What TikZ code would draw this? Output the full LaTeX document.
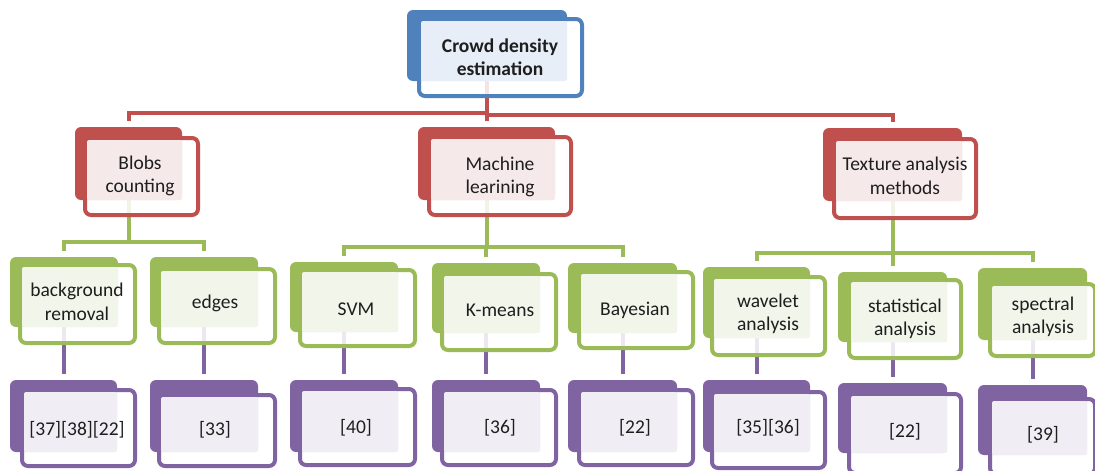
\documentclass[tikz,border=0pt]{standalone}
\usepackage{fontspec}
\setmainfont{Carlito}
\usetikzlibrary{fit,calc}
\definecolor{cblue}{HTML}{4F81BD}
\definecolor{cred}{HTML}{C0504D}
\definecolor{cgreen}{HTML}{9BBB59}
\definecolor{cpurple}{HTML}{8064A2}
\definecolor{tblue}{HTML}{E7EEF8}
\definecolor{tred}{HTML}{F5E9E9}
\definecolor{tgreen}{HTML}{F2F5EA}
\definecolor{tpurple}{HTML}{F0EDF4}
\definecolor{ctext}{HTML}{1E1E1E}
\pgfdeclarelayer{bg}
\pgfsetlayers{bg,main}
\tikzset{
  backbox/.style={inner sep=0pt, outer sep=0pt, fill=#1, draw=none, rounded corners=6pt},
  frontbox/.style={inner sep=-2pt, outer sep=0pt, draw=#1, line width=4pt, fill=white, fill opacity=0.85, rounded corners=6pt},
  txt/.style={text=ctext, align=center, inner sep=0pt, font=\fontsize{19.5}{23.5}\selectfont},
  conn/.style={draw=#1, line width=4pt, shorten >=6pt},
}
% #1 name, #2 colour, #3 tint, #4 back corners, #5 front corners, #6 text position, #7 text
\newcommand\cbx[7]{%
  \node[backbox=#2, fit={#4}] (#1-b) {};
  \node[frontbox=#2, fit={#5}] (#1) {};
  \fill[#3, rounded corners=2pt] ($(#1.north west)+(2,2)$) rectangle (#1-b.south east);
  \node[txt] (#1-t) at #6 {#7};
}
\begin{document}
\begin{tikzpicture}[x=1pt,y=-1pt]
\useasboundingbox (0,0) rectangle (1095,471);
% level 0
\cbx{top}{cblue}{tblue}{(407,10)(567,81)}{(417,17)(584,98)}{(500,57)}{\bfseries Crowd density\\\bfseries estimation}
% level 1
\cbx{blobs}{cred}{tred}{(75,127)(182,200)}{(83,136)(200,217)}{(140,176)}{Blobs\\counting}
\cbx{ml}{cred}{tred}{(418,127)(555,200)}{(427,135)(573,217)}{(500,177)}{Machine\\learining}
\cbx{tex}{cred}{tred}{(823,128)(962,201)}{(832,137)(978,220)}{(905,176)}{Texture analysis\\methods}
% level 2
\cbx{bgr}{cgreen}{tgreen}{(10,257)(118,327)}{(18,263)(137,345)}{(77,302)}{background\\removal}
\cbx{edg}{cgreen}{tgreen}{(150,257)(258,327)}{(157,267)(277,345)}{(215,303)}{edges}
\cbx{svm}{cgreen}{tgreen}{(290,262)(398,332)}{(298,268)(417,348)}{(356,309)}{SVM}
\cbx{kme}{cgreen}{tgreen}{(432,263)(540,333)}{(440,272)(558,352)}{(500,310)}{K-means}
\cbx{bay}{cgreen}{tgreen}{(568,263)(677,333)}{(577,270)(695,350)}{(635,310)}{Bayesian}
\cbx{wav}{cgreen}{tgreen}{(703,267)(810,338)}{(710,275)(827,357)}{(768,314)}{wavelet\\analysis}
\cbx{sta}{cgreen}{tgreen}{(838,272)(947,342)}{(847,278)(963,360)}{(905,319)}{statistical\\analysis}
\cbx{spe}{cgreen}{tgreen}{(978,268)(1087,340)}{(988,282)(1097,358)}{(1043,317)}{spectral\\analysis}
% level 3
\cbx{r1}{cpurple}{tpurple}{(10,380)(117,452)}{(20,388)(137,468)}{(77,430)}{[37][38][22]}
\cbx{r2}{cpurple}{tpurple}{(150,380)(258,452)}{(157,393)(277,468)}{(215,430)}{[33]}
\cbx{r3}{cpurple}{tpurple}{(290,380)(398,452)}{(298,387)(417,467)}{(356,428)}{[40]}
\cbx{r4}{cpurple}{tpurple}{(432,380)(540,452)}{(440,388)(558,467)}{(500,428)}{[36]}
\cbx{r5}{cpurple}{tpurple}{(568,380)(677,452)}{(577,388)(695,467)}{(635,428)}{[22]}
\cbx{r6}{cpurple}{tpurple}{(703,380)(810,452)}{(710,390)(827,470)}{(768,428)}{[35][36]}
\cbx{r7}{cpurple}{tpurple}{(838,383)(947,453)}{(847,392)(963,475)}{(905,432)}{[22]}
\cbx{r8}{cpurple}{tpurple}{(978,385)(1087,455)}{(988,397)(1097,476)}{(1043,435)}{[39]}
% connectors
\begin{pgfonlayer}{bg}
\draw[conn=cred] (top-b.south) -- ++(0,32) -| (blobs-b.north);
\draw[conn=cred] (top-b.south) -- (top-b.south |- ml-b.north);
\draw[conn=cred] (top-b.south) -- ++(0,34) -| (tex-b.north);
\draw[conn=cgreen] (blobs-b.south) -- ++(0,42) -| (bgr-b.north);
\draw[conn=cgreen] (blobs-b.south) -- ++(0,42) -| (edg-b.north);
\draw[conn=cgreen] (ml-b.south) -- ++(0,47) -| (svm-b.north);
\draw[conn=cgreen] (ml-b.south) -- ++(0,47) -| (kme-b.north);
\draw[conn=cgreen] (ml-b.south) -- ++(0,47) -| (bay-b.north);
\draw[conn=cgreen] (tex-b.south) -- ++(0,52) -| (wav-b.north);
\draw[conn=cgreen] (tex-b.south) -- ++(0,52) -| (sta-b.north);
\draw[conn=cgreen] (tex-b.south) -- ++(0,52) -| (spe-b.north);
\draw[conn=cpurple] (bgr-b.south) -- (bgr-b.south |- r1-b.north);
\draw[conn=cpurple] (edg-b.south) -- (edg-b.south |- r2-b.north);
\draw[conn=cpurple] (svm-b.south) -- (svm-b.south |- r3-b.north);
\draw[conn=cpurple] (kme-b.south) -- (kme-b.south |- r4-b.north);
\draw[conn=cpurple] (bay-b.south) -- (bay-b.south |- r5-b.north);
\draw[conn=cpurple] (wav-b.south) -- (wav-b.south |- r6-b.north);
\draw[conn=cpurple] (sta-b.south) -- (sta-b.south |- r7-b.north);
\draw[conn=cpurple] (spe-b.south) -- (spe-b.south |- r8-b.north);
\end{pgfonlayer}
\end{tikzpicture}
\end{document}
